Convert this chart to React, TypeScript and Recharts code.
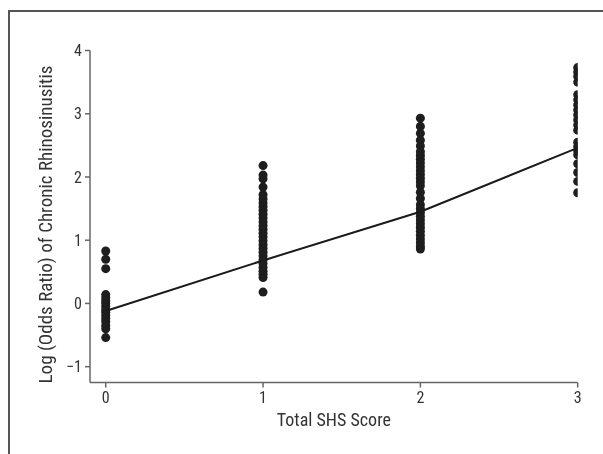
import React from 'react';
import { ScatterChart, Scatter, XAxis, YAxis, ZAxis, Label } from 'recharts';

const scoreCategories = [0, 1, 2, 3];
const score0Values = [0.83, 0.70, 0.55, 0.14, 0.09, 0.04, 0.0, -0.05, -0.10, -0.14, -0.19, -0.24, -0.29, -0.35, -0.40, -0.54];
const score1Values = [2.18, 2.03, 1.97, 1.84, 1.72, 1.65, 1.59, 1.53, 1.47, 1.41, 1.35, 1.29, 1.23, 1.17, 1.11, 1.05, 0.99, 0.93, 0.87, 0.81, 0.75, 0.69, 0.63, 0.57, 0.51, 0.46, 0.41, 0.18];
const score2Values = [2.93, 2.80, 2.69, 2.58, 2.49, 2.40, 2.34, 2.28, 2.22, 2.16, 2.10, 2.04, 1.98, 1.92, 1.86, 1.76, 1.66, 1.56, 1.50, 1.44, 1.38, 1.32, 1.26, 1.20, 1.14, 1.08, 1.02, 0.96, 0.90, 0.86];
const score3Values = [3.73, 3.66, 3.59, 3.50, 3.30, 3.22, 3.14, 3.06, 2.98, 2.90, 2.82, 2.74, 2.55, 2.48, 2.41, 2.35, 2.21, 2.07, 1.93, 1.75];
const fittedValues = [-0.12, 0.68, 1.45, 2.46];
const xTicks = [0, 1, 2, 3];
const yTicks = [-1, 0, 1, 2, 3, 4];
const xAxisTitle = 'Total SHS Score';
const yAxisTitle = 'Log (Odds Ratio) of Chronic Rhinosinusitis';

const groups = [score0Values, score1Values, score2Values, score3Values];
const pointData = groups.flatMap((vals, i) => vals.map((v) => ({ score: scoreCategories[i], logOR: v })));
const fitData = scoreCategories.map((s, i) => ({ score: s, logOR: fittedValues[i] }));

const FONT = "'Liberation Sans Narrow', 'Arial Narrow', 'Roboto Condensed', sans-serif";
const TEXT = '#333333';
const AXIS = '#666666';

const YTitle = (props: any) => {
  const vb = props.viewBox || {};
  const cx = vb.x + vb.width / 2;
  const cy = vb.y + vb.height / 2 + 8;
  return (
    <text
      x={cx}
      y={cy}
      transform={`rotate(-90, ${cx}, ${cy})`}
      textAnchor="middle"
      dominantBaseline="central"
      fill={TEXT}
      fontSize={19}
      fontFamily={FONT}
    >
      {yAxisTitle}
    </text>
  );
};

export default function App() {
  return (
    <>
      <div
        style={{
          position: 'fixed',
          left: 8,
          top: 10,
          width: 595,
          height: 444,
          borderLeft: '2px solid #555',
          borderTop: '2px solid #555',
          boxSizing: 'border-box',
        }}
      />
      <div style={{ position: 'fixed', left: 0, top: 0, width: 603, height: 454 }}>
        <ScatterChart width={603} height={454} margin={{ top: 50.5, right: 25.3, bottom: 21.5, left: 0 }}>
          <XAxis
            type="number"
            dataKey="score"
            domain={[-0.1, 3]}
            ticks={xTicks}
            allowDataOverflow
            height={50}
            stroke={AXIS}
            strokeWidth={1.5}
            tickSize={5}
            tickMargin={4}
            tick={{ fill: TEXT, fontSize: 16, fontFamily: FONT }}
          >
            <Label value={xAxisTitle} position="insideBottom" offset={6.5} fill={TEXT} fontSize={18} fontFamily={FONT} />
          </XAxis>
          <YAxis
            type="number"
            dataKey="logOR"
            domain={[-1.25, 4]}
            ticks={yTicks}
            allowDataOverflow
            width={90}
            stroke={AXIS}
            strokeWidth={1.5}
            tickSize={5}
            tickMargin={3}
            tick={{ fill: TEXT, fontSize: 16, fontFamily: FONT }}
            tickFormatter={(v: number) => (v < 0 ? `\u2212${Math.abs(v)}` : `${v}`)}
          >
            <Label content={YTitle} />
          </YAxis>
          <ZAxis type="number" range={[56, 56]} />
          <Scatter data={pointData} fill="#1e1e1e" isAnimationActive={false} />
          <Scatter
            data={fitData}
            line={{ stroke: '#1a1a1a', strokeWidth: 2 }}
            shape={() => <g />}
            isAnimationActive={false}
          />
        </ScatterChart>
      </div>
    </>
  );
}
